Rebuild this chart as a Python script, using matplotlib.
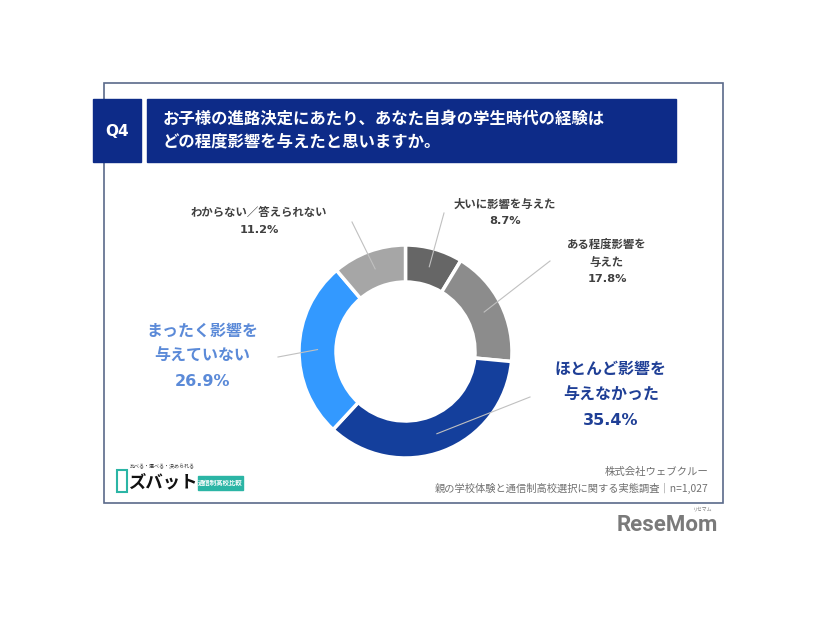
import matplotlib
matplotlib.use("Agg")
import numpy as np
import matplotlib.pyplot as plt
from matplotlib.patches import Rectangle

plt.rcParams['font.family'] = ['Noto Sans CJK JP', 'DejaVu Sans']

# --- data -------------------------------------------------------------
labels = ["大いに影響を与えた", "ある程度影響を\n与えた", "ほとんど影響を\n与えなかった",
          "まったく影響を\n与えていない", "わからない／答えられない"]
values = [8.7, 17.8, 35.4, 26.9, 11.2]
colors = ["#666666", "#8c8c8c", "#143f9c", "#3399ff", "#a6a6a6"]
label_colors = ["#404040", "#404040", "#1f3f96", "#5b8ad8", "#404040"]
label_sizes = [8.2, 8.2, 11.5, 11.5, 8.2]

question = "Q4"
title = "お子様の進路決定にあたり、あなた自身の学生時代の経験は\nどの程度影響を与えたと思いますか。"
source_1 = "株式会社ウェブクルー"
source_2 = "親の学校体験と通信制高校選択に関する実態調査｜n=1,027"

W, H = 826, 620
NAVY = "#0d2b88"
MIXED = ['DejaVu Sans', 'Noto Sans CJK JP']


def Y(y):
    # pixel row (top = 0) -> data y
    return H - y


fig = plt.figure(figsize=(W / 100, H / 100), dpi=100)
ax = fig.add_axes([0, 0, 1, 1])

# frame
ax.add_patch(Rectangle((104, Y(503)), 619, 420, fill=False,
                       edgecolor="#5a6a8a", linewidth=1.2))

# header boxes
ax.add_patch(Rectangle((93, Y(162)), 48, 63, color=NAVY))
ax.add_patch(Rectangle((147, Y(162)), 529, 63, color=NAVY))
ax.text(117, Y(131), question, color="white", fontsize=11, fontweight="bold",
        ha="center", va="center", family=MIXED)
ax.text(163, Y(130), title, color="white", fontsize=11.8, fontweight="bold",
        ha="left", va="center", linespacing=1.3)

# donut
cx, cy, r_out, ring = 405.5, Y(351.5), 106.5, 37
wedges, _ = ax.pie(values, colors=colors, startangle=90, counterclock=False,
                   center=(cx, cy), radius=r_out, frame=True,
                   wedgeprops=dict(width=ring, edgecolor="white", linewidth=2.5))
ax.set_xlim(0, W)
ax.set_ylim(0, H)
ax.set_aspect("equal")
ax.axis("off")

# label positions (pixel coords): text centre, leader outer end
text_pos = [(505, 212), (607, 261), (611, 395), (202, 356), (259, 221)]
leader_end = [(444, 213), (550, 261), (530, 397), (278, 357), (352, 222)]

r_mid = r_out - ring / 2
for w, lab, v, tp, le, c, fs in zip(wedges, labels, values, text_pos,
                                    leader_end, label_colors, label_sizes):
    ang = np.deg2rad((w.theta1 + w.theta2) / 2)
    sx, sy = cx + r_mid * np.cos(ang), cy + r_mid * np.sin(ang)
    ax.plot([sx, le[0]], [sy, Y(le[1])], color="#c0c0c0", linewidth=0.8, zorder=3)
    ax.text(tp[0], Y(tp[1]), f"{lab}\n{v:.1f}%", color=c, fontsize=fs,
            fontweight="bold", ha="center", va="center", family=MIXED,
            linespacing=1.78 if fs < 10 else 1.85)

# source
ax.text(708, Y(472), source_1, color="#707070", fontsize=7.5, ha="right", va="center")
ax.text(708, Y(488), source_2, color="#707070", fontsize=7.4, ha="right", va="center")

# service logo (bottom left)
ax.add_patch(Rectangle((117, Y(492)), 10, 22, facecolor="none",
                       edgecolor="#2bb5a5", linewidth=1.5))
ax.text(130, Y(467), "比べる・選べる・決められる", fontsize=3.6, color="#333333",
        ha="left", va="center")
ax.text(128, Y(482), "ズバット", fontsize=12.5, fontweight="bold", color="#111111",
        ha="left", va="center")
ax.add_patch(Rectangle((198, Y(490)), 45, 14, color="#2bb5a5"))
ax.text(220.5, Y(483), "通信制高校比較", fontsize=4.6, fontweight="bold", color="white",
        ha="center", va="center")

# ReseMom logo
ax.text(718, Y(525), "ReseMom", fontsize=16, fontweight="bold", color="#7a7a7a",
        ha="right", va="center", family=["Roboto", "DejaVu Sans"])
ax.text(712, Y(509), "リセマム", fontsize=3.5, color="#7a7a7a", ha="right", va="center")

fig.savefig("out.png", dpi=100)
